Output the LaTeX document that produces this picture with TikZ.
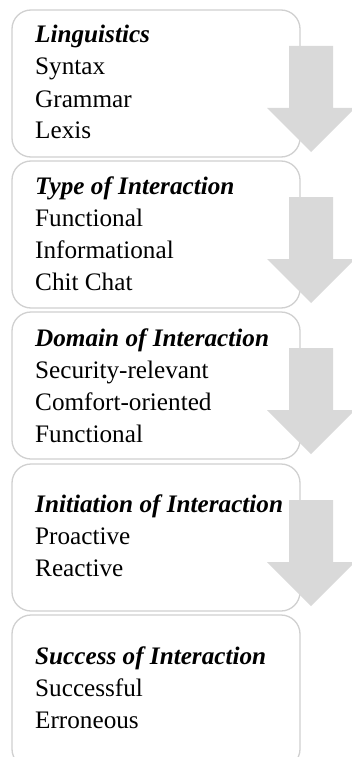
\documentclass[tikz,border=0pt]{standalone}
\usepackage{fontspec}
\setmainfont{Liberation Serif}
\usetikzlibrary{calc}
\definecolor{boxline}{RGB}{208,208,208}
\definecolor{arrowfill}{RGB}{217,217,217}
\begin{document}
\begin{tikzpicture}[x=1pt,y=-1pt,
  catbox/.style={draw=boxline, line width=1.3pt, fill=white, rounded corners=19pt},
  cattext/.style={anchor=base west, align=left, inner sep=0pt,
    font=\fontsize{25.2}{32}\selectfont},
  blockarrow/.style={fill=arrowfill, draw=none}]
\useasboundingbox (0,0) rectangle (352,757);
\clip (0,0) rectangle (352,757);

% category boxes
\draw[catbox] (12,10) rectangle (300,157);
\coordinate (b1) at (300,10);
\draw[catbox] (12,161) rectangle (300,308);
\coordinate (b2) at (300,161);
\draw[catbox] (12,312) rectangle (300,459);
\coordinate (b3) at (300,312);
\draw[catbox] (12,464) rectangle (300,611);
\coordinate (b4) at (300,464);
\draw[catbox] (12,615) rectangle (300,768);

% category contents (anchored at the baseline of the last line)
\node[cattext] (t1) at (35,139) {\textbf{\textit{Linguistics}}\\Syntax\\Grammar\\Lexis};
\node[cattext] (t2) at (35,290) {\textbf{\textit{Type of Interaction}}\\Functional\\Informational\\Chit Chat};
\node[cattext] (t3) at (35,442) {\textbf{\textit{Domain of Interaction}}\\Security-relevant\\Comfort-oriented\\Functional};
\node[cattext] (t4) at (35,576) {\textbf{\textit{Initiation of Interaction}}\\Proactive\\Reactive};
\node[cattext] (t5) at (35,728) {\textbf{\textit{Success of Interaction}}\\Successful\\Erroneous};

% block arrows between the boxes
\foreach \b in {b1,b2,b3,b4}{
  \fill[blockarrow]
    ($(\b)+(-11,36)$) -- ($(\b)+(33,36)$) -- ($(\b)+(33,98)$) --
    ($(\b)+(55,98)$) -- ($(\b)+(11,142)$) -- ($(\b)+(-33,98)$) --
    ($(\b)+(-11,98)$) -- cycle;
}
\end{tikzpicture}
\end{document}
